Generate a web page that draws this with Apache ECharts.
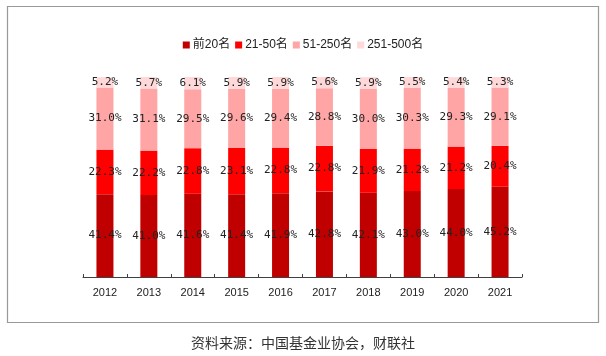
<!DOCTYPE html>
<html>
<head>
<meta charset="utf-8">
<script src="https://cdn.jsdelivr.net/npm/echarts@6/dist/echarts.min.js"></script>
<style>html,body{margin:0;padding:0;background:#fff}#c{width:606px;height:356px}</style>
</head>
<body>
<div id="c"></div>
<script>
const categories = ['2012','2013','2014','2015','2016','2017','2018','2019','2020','2021'];
const seriesNames = ['前20名','21-50名','51-250名','251-500名'];
const top20 = [41.4, 41.0, 41.6, 41.4, 41.9, 42.8, 42.1, 43.0, 44.0, 45.2];
const rank21to50 = [22.3, 22.2, 22.8, 23.1, 22.8, 22.8, 21.9, 21.2, 21.2, 20.4];
const rank51to250 = [31.0, 31.1, 29.5, 29.6, 29.4, 28.8, 30.0, 30.3, 29.3, 29.1];
const rank251to500 = [5.2, 5.7, 6.1, 5.9, 5.9, 5.6, 5.9, 5.5, 5.4, 5.3];
const sourceText = '资料来源：中国基金业协会，财联社';

const colors = ['#C00000', '#FF0000', '#FFA5A5', '#FFD9D9'];
const dataSets = [top20, rank21to50, rank51to250, rank251to500];

const chart = echarts.init(document.getElementById('c'), null, {renderer: 'canvas'});
chart.setOption({
  animation: false,
  color: colors,
  legend: {
    top: 34,
    left: 'center',
    itemWidth: 7,
    itemHeight: 7,
    itemGap: 5,
    icon: 'rect',
    textStyle: {fontSize: 12, color: '#222', fontFamily: 'Arial, "Noto Sans CJK SC"', padding: [0, 0, 0, -2]},
    data: seriesNames
  },
  grid: {left: 83, right: 84, top: 77, bottom: 79},
  xAxis: {
    type: 'category',
    data: categories,
    axisLine: {lineStyle: {color: '#404040', width: 1}},
    axisTick: {show: true, inside: true, length: 3, lineStyle: {color: '#404040'}},
    axisLabel: {fontSize: 11, color: '#222', margin: 10, fontFamily: 'Arial'}
  },
  yAxis: {type: 'value', min: 0, max: 100, show: false, splitLine: {show: false}},
  series: dataSets.map((d, i) => ({
    name: seriesNames[i],
    type: 'bar',
    stack: 'total',
    barWidth: 17,
    data: d,
    itemStyle: {color: colors[i]},
    label: {
      show: true,
      position: 'inside',
      formatter: p => p.value.toFixed(1) + '%',
      fontSize: 11,
      color: '#222',
      fontFamily: '"DejaVu Sans Mono", monospace'
    }
  })),
  graphic: [
    {type: 'rect', shape: {x: 7.5, y: 6.5, width: 591, height: 316}, style: {fill: 'none', stroke: '#999', lineWidth: 1.2}, z: -1},
    {type: 'text', x: 303, y: 343, style: {text: sourceText, fontSize: 14, fill: '#333', fontFamily: '"Noto Sans CJK SC"', textAlign: 'center', textVerticalAlign: 'middle'}}
  ]
});
</script>
</body>
</html>
